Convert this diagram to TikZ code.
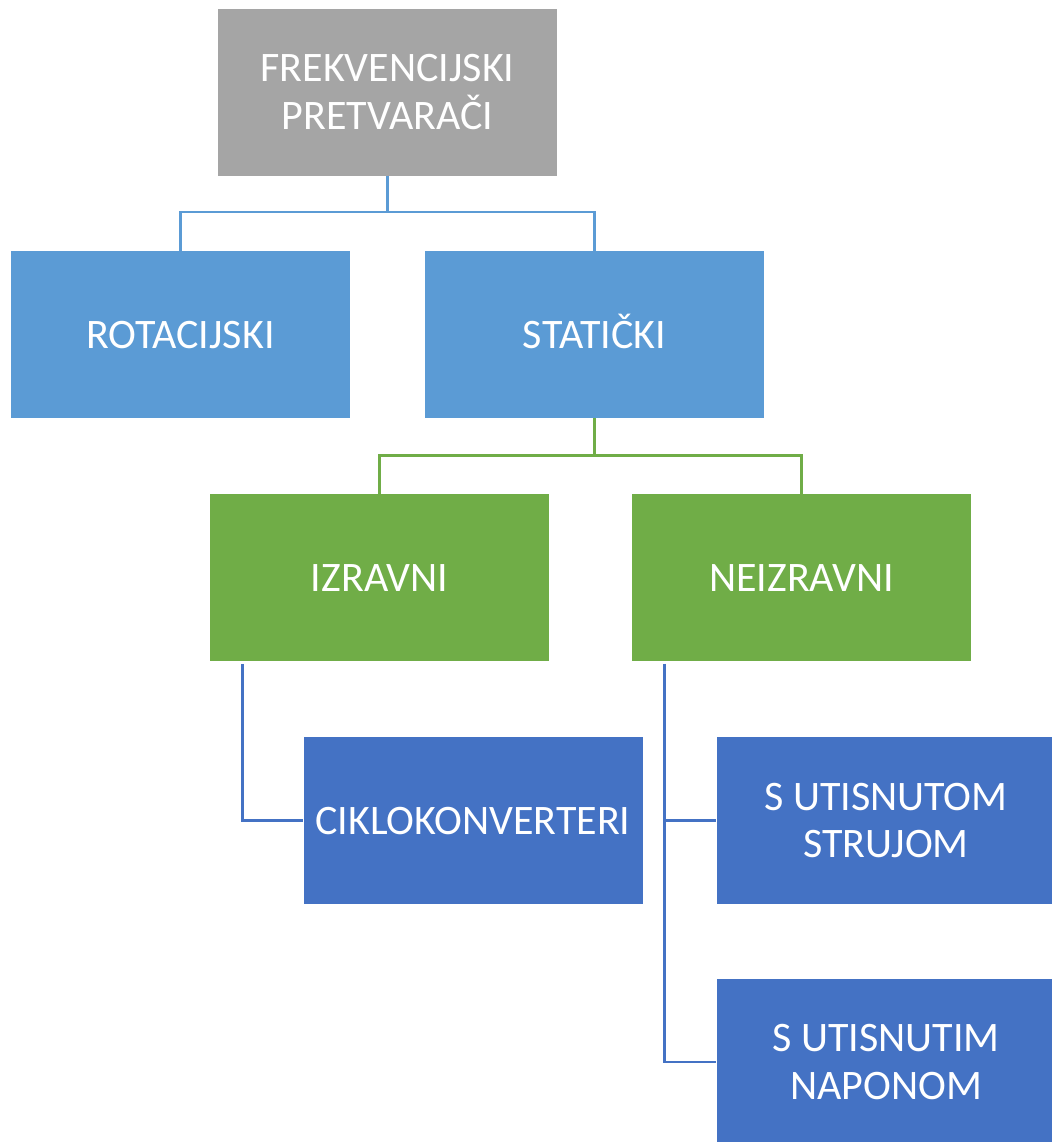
\documentclass[tikz,border=0pt]{standalone}
\usepackage{fontspec}
\setmainfont{Carlito}
\definecolor{cgray}{HTML}{A5A5A5}
\definecolor{clight}{HTML}{5B9BD5}
\definecolor{cgreen}{HTML}{70AD47}
\definecolor{cblue}{HTML}{4472C4}
\begin{document}
\begin{tikzpicture}[x=0.75pt,y=-0.75pt,
  box/.style={rectangle, inner sep=0pt, minimum width=254.25pt, minimum height=125.25pt,
    text=white, align=center, font=\fontsize{31.5}{35.5}\selectfont},
  oneline/.style={box, text height=20.3pt, text depth=0pt},
  link/.style={line width=1.9pt}]
\useasboundingbox (0,0) rectangle (1051,1142);
\node[box, fill=cgray] (top) at (387.5,92) {FREKVENCIJSKI\\PRETVARAČI};
\node[oneline, fill=clight] (rot) at (180.5,334.5) {ROTACIJSKI};
\node[oneline, fill=clight] (stat) at (594.5,334.5) {STATIČKI};
\node[oneline, fill=cgreen] (izr) at (379.5,577.5) {IZRAVNI};
\node[oneline, fill=cgreen] (neiz) at (801.5,577.5) {NEIZRAVNI};
\node[oneline, fill=cblue] (ciklo) at (473,820.5) {CIKLOKONVERTERI};
\node[box, fill=cblue] (sut) at (886,820.5) {S UTISNUTOM\\STRUJOM};
\node[box, fill=cblue] (sutn) at (886,1062) {S UTISNUTIM\\NAPONOM};
\draw[link, clight] (top.south) -- ++(0,36) -| (rot.north);
\draw[link, clight] (top.south) -- ++(0,36) -| (stat.north);
\draw[link, cgreen] (stat.south) -- ++(0,37) -| (izr.north);
\draw[link, cgreen] (stat.south) -- ++(0,37) -| (neiz.north);
\draw[link, cblue] ([xshift=24.75pt,yshift=-2pt]izr.south west) |- (ciklo.west);
\draw[link, cblue] ([xshift=24.75pt,yshift=-2pt]neiz.south west) |- (sut.west);
\draw[link, cblue] ([xshift=24.75pt,yshift=-2pt]neiz.south west) |- (sutn.west);
\end{tikzpicture}
\end{document}
